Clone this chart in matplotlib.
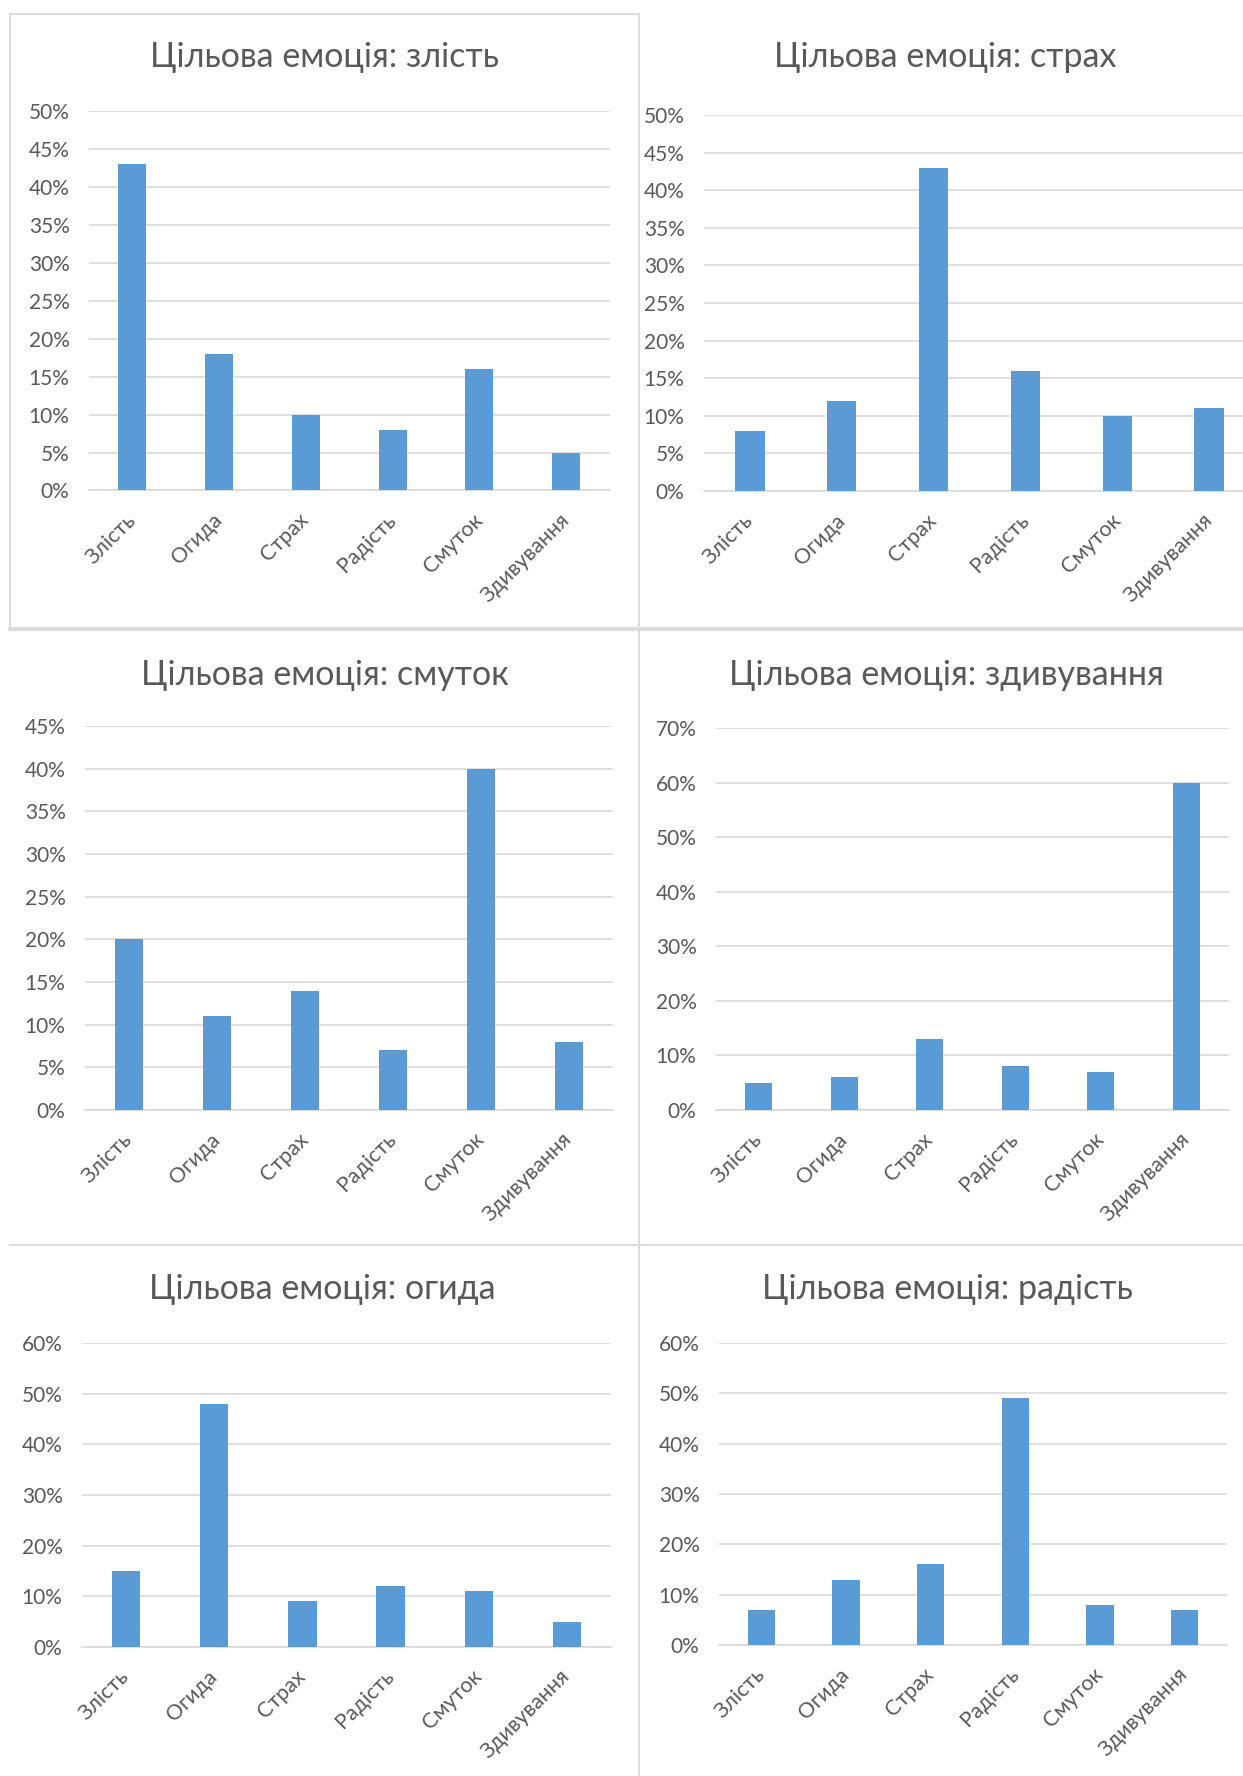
import matplotlib
matplotlib.use("Agg")
import matplotlib.pyplot as plt
from matplotlib.lines import Line2D

# === 資料 ===
categories = ["Злість", "Огида", "Страх", "Радість", "Смуток", "Здивування"]

anger = [43, 18, 10, 8, 16, 5]
fear = [8, 12, 43, 16, 10, 11]
sadness = [20, 11, 14, 7, 40, 8]
surprise = [5, 6, 13, 8, 7, 60]
disgust = [15, 48, 9, 12, 11, 5]
joy = [7, 13, 16, 49, 8, 7]

titles = [
    "Цільова емоція: злість",
    "Цільова емоція: страх",
    "Цільова емоція: смуток",
    "Цільова емоція: здивування",
    "Цільова емоція: огида",
    "Цільова емоція: радість",
]
series = [anger, fear, sadness, surprise, disgust, joy]
y_max = [50, 50, 45, 70, 60, 60]
y_step = [5, 5, 5, 10, 10, 10]

# === 版面 (像素) ===
W, H = 1243, 1776
# left, right, top (y_max), bottom (0)
axes_px = [
    (89, 609.5, 111, 490.5),
    (704, 1255, 115, 491),
    (85, 613, 726, 1110),
    (716, 1229, 728, 1110),
    (82, 611, 1343, 1647),
    (719, 1227, 1343, 1645),
]
title_px = [
    (324.5, 67), (945.5, 67),
    (324.6, 685), (946, 685),
    (322.4, 1299), (947, 1299),
]

BAR = "#5b9bd5"
GRID = "#d9d9d9"
TEXT = "#595959"
FONT = ["Lato", "DejaVu Sans"]

plt.rcParams["font.family"] = FONT

fig = plt.figure(figsize=(W / 100, H / 100), dpi=100)
fig.patch.set_facecolor("white")


def fx(x):
    return x / W


def fy(y):
    return 1 - y / H


for i in range(6):
    l, r, t, b = axes_px[i]
    ax = fig.add_axes([fx(l), fy(b), (r - l) / W, (b - t) / H])
    ax.bar(range(len(categories)), series[i], width=0.32, color=BAR, zorder=3)
    ax.set_xlim(-0.5, len(categories) - 0.5)
    ax.set_ylim(0, y_max[i])
    ticks = list(range(0, y_max[i] + 1, y_step[i]))
    ax.set_yticks(ticks)
    ax.set_yticklabels([f"{v}%" for v in ticks], fontsize=15, color=TEXT)
    ax.set_xticks(range(len(categories)))
    ax.set_xticklabels(categories, rotation=45, ha="right", va="center",
                       rotation_mode="anchor", fontsize=15.5, color=TEXT)
    ax.tick_params(axis="x", length=0, pad=19)
    ax.tick_params(axis="y", length=0, pad=14)
    ax.yaxis.grid(True, color=GRID, linewidth=1.2)
    ax.set_axisbelow(True)
    for side in ["top", "left", "right"]:
        ax.spines[side].set_visible(False)
    ax.spines["bottom"].set_color(GRID)
    ax.spines["bottom"].set_linewidth(1.2)
    ax.set_facecolor("none")

    tx, ty = title_px[i]
    fig.text(fx(tx), fy(ty), titles[i], ha="center", va="baseline",
             fontsize=24.5, color=TEXT)

# 圖框與分隔線
frame = [
    ((10, 14), (638.7, 14), 1.5),
    ((10, 14), (10, 629), 1.5),
    ((638.7, 14), (638.7, H), 1.5),
    ((10, 629), (W, 629), 3.0),
    ((10, 1245.3), (W, 1245.3), 1.5),
]
for (x0, y0), (x1, y1), lw in frame:
    fig.add_artist(Line2D([fx(x0), fx(x1)], [fy(y0), fy(y1)],
                          transform=fig.transFigure, color="#dcdcdc", linewidth=lw))

fig.savefig("out.png", dpi=100, facecolor="white")
